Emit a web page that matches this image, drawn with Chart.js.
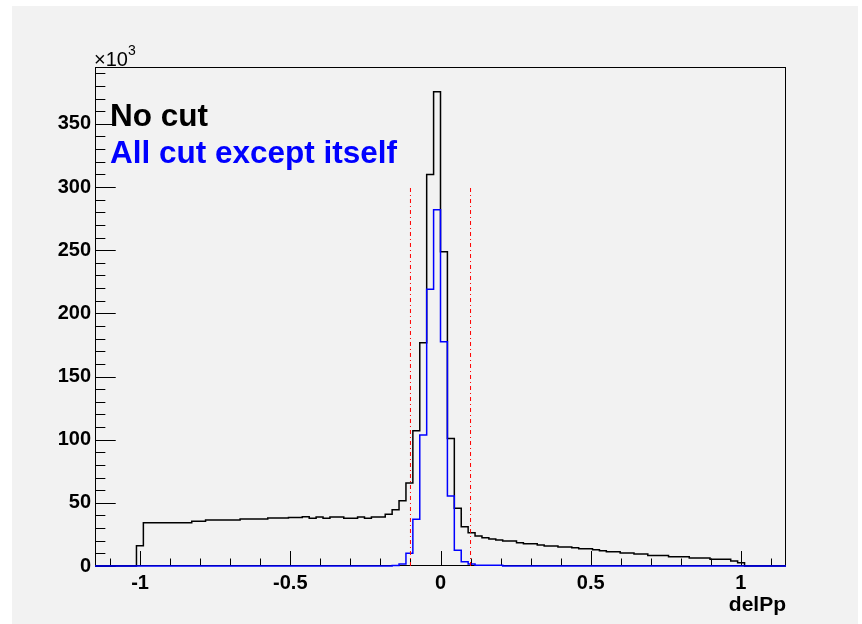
<!DOCTYPE html>
<html>
<head>
<meta charset="utf-8">
<script src="https://cdn.jsdelivr.net/npm/chart.js@4/dist/chart.umd.min.js"></script>
<style>
html,body{margin:0;padding:0;background:#ffffff;}
#wrap{width:862px;height:624px;position:relative;}
canvas{display:block;}
</style>
</head>
<body>
<div id="wrap"><canvas id="c" width="862" height="624"></canvas></div>
<script>
// ---- histogram binning (100 bins from -1.15 to 1.15) ----
const binLow = -1.15;
const binWidth = 0.023;

// ---- series values, in units of 10^3 entries per bin ----
const noCut = [
  0, 0, 0, 0, 0, 0, 16.1, 34.3, 34.3, 34.3,
  34.3, 34.3, 34.3, 34.3, 35.4, 35.4, 36.4, 36.4, 36.4, 36.4,
  36.4, 37.2, 37.2, 37.2, 37.2, 38.0, 38.0, 38.0, 38.3, 38.3,
  39.0, 37.7, 38.8, 37.7, 38.8, 38.8, 37.7, 37.7, 38.8, 37.7,
  38.8, 38.8, 40.9, 44.5, 51.6, 65.8, 107.1, 176.8, 310.0, 375.5,
  248.8, 101.0, 45.7, 31.1, 26.4, 23.8, 22.4, 21.4, 20.6, 19.8,
  19.8, 18.5, 17.7, 17.7, 16.6, 15.8, 15.8, 15.0, 15.0, 14.5,
  13.7, 13.7, 12.9, 12.1, 11.3, 11.3, 10.3, 10.3, 9.5, 9.5,
  8.4, 8.4, 8.4, 7.4, 7.4, 7.4, 6.3, 6.3, 6.3, 5.3,
  5.3, 5.3, 4.0, 2.6, 0, 0, 0, 0, 0, 0
];
const allCutExceptItself = [
  0, 0, 0, 0, 0, 0, 0, 0, 0, 0,
  0, 0, 0, 0, 0, 0, 0, 0, 0, 0,
  0, 0, 0, 0, 0, 0, 0, 0, 0, 0,
  0, 0, 0, 0, 0, 0, 0, 0, 0, 0,
  0, 0, 0, 0.4, 1.6, 10.0, 37.0, 103.7, 219.0, 282.0,
  177.6, 55.4, 12.5, 3.4, 1.6, 0.5, 0.5, 0.5, 0.5, 0,
  0, 0, 0, 0, 0, 0, 0, 0, 0, 0,
  0, 0, 0, 0, 0, 0, 0, 0, 0, 0,
  0, 0, 0, 0, 0, 0, 0, 0, 0, 0,
  0, 0, 0, 0, 0, 0, 0, 0, 0, 0
];

// ---- cut markers ----
const cutPositions = [-0.1, 0.1];
const cutLineTop = 300;

// ---- axes ----
const xMin = -1.15, xMax = 1.15;
const yMin = 0, yMax = 395;
const xMajorTicks = [-1, -0.5, 0, 0.5, 1];
const xMinorTicks = [-1.1, -0.9, -0.8, -0.7, -0.6, -0.4, -0.3, -0.2, -0.1, 0.1, 0.2, 0.3, 0.4, 0.6, 0.7, 0.8, 0.9, 1.1];
const yMajorTicks = [0, 50, 100, 150, 200, 250, 300, 350];
const yMinorTicks = [10, 20, 30, 40, 60, 70, 80, 90, 110, 120, 130, 140, 160, 170, 180, 190, 210, 220, 230, 240, 260, 270, 280, 290, 310, 320, 330, 340, 360, 370, 380, 390];

const xTitle = 'delPp';
const yExponent = '3';
const legendLines = ['No cut', 'All cut except itself'];
const seriesColors = ['#000000', '#0000ff'];

// ---- build step-histogram point tables ----
function histPoints(values) {
  const pts = values.map((v, k) => ({ x: binLow + k * binWidth, y: v }));
  pts.push({ x: binLow + values.length * binWidth, y: 0 });
  return pts;
}

const FONT = "'Liberation Sans', Arial, Helvetica, sans-serif";
Chart.defaults.font.family = FONT;

const rootStyle = {
  id: 'rootStyle',
  beforeDraw(chart) {
    const ctx = chart.ctx;
    ctx.save();
    ctx.fillStyle = '#ffffff';
    ctx.fillRect(0, 0, chart.width, chart.height);
    ctx.fillStyle = '#f2f2f2';
    ctx.fillRect(12, 6, chart.width - 16, chart.height - 6);
    ctx.restore();
  },
  beforeDatasetsDraw(chart) {
    const ctx = chart.ctx;
    const a = chart.chartArea;
    const xs = chart.scales.x, ys = chart.scales.y;
    ctx.save();
    ctx.strokeStyle = '#000000';
    ctx.lineWidth = 1;
    ctx.strokeRect(Math.round(a.left) + 0.5, Math.round(a.top) + 0.5,
                   Math.round(a.right - a.left) - 1, Math.round(a.bottom - a.top) - 1);
    const ylen = (a.right - a.left) * 0.03;
    const xlen = (a.bottom - a.top) * 0.03;
    ctx.beginPath();
    yMajorTicks.forEach(v => { const p = Math.round(ys.getPixelForValue(v)) + 0.5; ctx.moveTo(a.left, p); ctx.lineTo(a.left + ylen, p); });
    yMinorTicks.forEach(v => { const p = Math.round(ys.getPixelForValue(v)) + 0.5; ctx.moveTo(a.left, p); ctx.lineTo(a.left + ylen / 2, p); });
    xMajorTicks.forEach(v => { const p = Math.round(xs.getPixelForValue(v)) + 0.5; ctx.moveTo(p, a.bottom); ctx.lineTo(p, a.bottom - xlen); });
    xMinorTicks.forEach(v => { const p = Math.round(xs.getPixelForValue(v)) + 0.5; ctx.moveTo(p, a.bottom); ctx.lineTo(p, a.bottom - xlen / 2); });
    ctx.stroke();
    ctx.restore();
  },
  afterDraw(chart) {
    const ctx = chart.ctx;
    const a = chart.chartArea;
    ctx.save();
    // exponent label
    ctx.fillStyle = '#000000';
    ctx.textBaseline = 'alphabetic';
    ctx.textAlign = 'left';
    ctx.font = '20px ' + FONT;
    ctx.fillText('\u00d710', a.left - 1, a.top - 1);
    const w = ctx.measureText('\u00d710').width;
    ctx.font = '14px ' + FONT;
    ctx.fillText(yExponent, a.left - 1 + w, a.top - 12);
    // axis title
    ctx.font = 'bold 21px ' + FONT;
    ctx.textAlign = 'right';
    ctx.fillText(xTitle, a.right, 611);
    // legend text
    ctx.textAlign = 'left';
    ctx.font = 'bold 31.5px ' + FONT;
    ctx.fillStyle = seriesColors[0];
    ctx.fillText(legendLines[0], 110, 126);
    ctx.fillStyle = seriesColors[1];
    ctx.fillText(legendLines[1], 110, 163);
    ctx.restore();
  }
};

const datasets = [];
cutPositions.forEach(c => {
  datasets.push({
    data: [{ x: c, y: 0 }, { x: c, y: cutLineTop }],
    borderColor: '#ff0000',
    borderWidth: 1,
    borderDash: [4, 3, 1, 3],
    pointRadius: 0,
    fill: false,
    order: 0,
    clip: false
  });
});
datasets.push({
  label: legendLines[1],
  data: histPoints(allCutExceptItself),
  borderColor: seriesColors[1],
  borderWidth: 1.5,
  stepped: true,
  pointRadius: 0,
  fill: false,
  order: 1,
  clip: false
});
datasets.push({
  label: legendLines[0],
  data: histPoints(noCut),
  borderColor: seriesColors[0],
  borderWidth: 1.5,
  stepped: true,
  pointRadius: 0,
  fill: false,
  order: 2,
  clip: false
});

new Chart(document.getElementById('c'), {
  type: 'line',
  data: { datasets },
  options: {
    responsive: false,
    animation: false,
    devicePixelRatio: 1,
    layout: { padding: { left: 0, top: 67, right: 76, bottom: 0 } },
    plugins: { legend: { display: false }, tooltip: { enabled: false }, title: { display: false } },
    scales: {
      x: {
        type: 'linear',
        min: xMin, max: xMax,
        grid: { display: false, drawTicks: false },
        border: { display: false },
        afterBuildTicks: s => { s.ticks = xMajorTicks.map(v => ({ value: v })); },
        afterFit: s => { s.height = 58; },
        ticks: {
          autoSkip: false, maxRotation: 0, padding: 5,
          color: '#000000',
          font: { size: 20, weight: 'bold' },
          callback: v => String(v)
        }
      },
      y: {
        type: 'linear',
        min: yMin, max: yMax,
        grid: { display: false, drawTicks: false },
        border: { display: false },
        afterBuildTicks: s => { s.ticks = yMajorTicks.map(v => ({ value: v })); },
        afterFit: s => { s.width = 95; },
        ticks: {
          autoSkip: false, padding: 4,
          color: '#000000',
          font: { size: 20, weight: 'bold' },
          callback: v => String(v)
        }
      }
    }
  },
  plugins: [rootStyle]
});
</script>
</body>
</html>
